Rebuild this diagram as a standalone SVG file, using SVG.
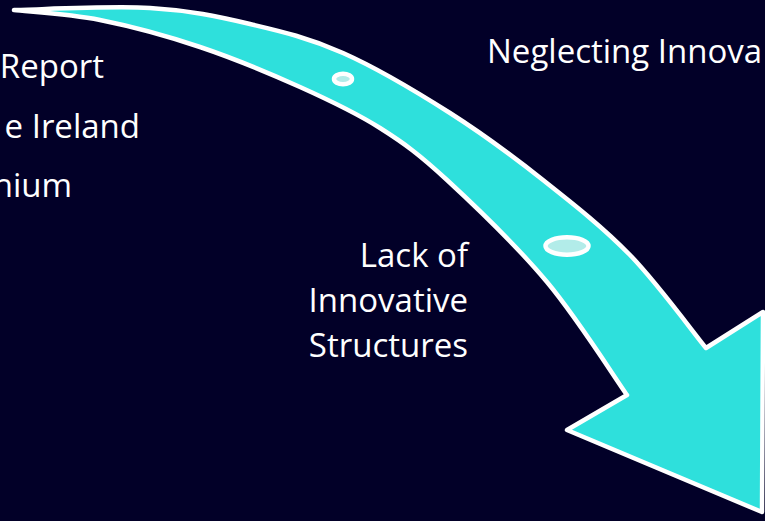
<svg xmlns="http://www.w3.org/2000/svg" width="765" height="521" viewBox="0 0 765 521">
  <style>
    .bg { fill: #020028; }
    .arrow { fill: #2ee0dc; stroke: #ffffff; stroke-width: 4.5; stroke-linejoin: round; }
    .dot { fill: #b2ece9; stroke: #ffffff; stroke-width: 4.5; }
    .label { font-family: "Open Sans", "Noto Sans", "Liberation Sans", sans-serif; font-size: 33px; fill: #ffffff; }
    .right { text-anchor: end; }
  </style>

  <rect class="bg" x="0" y="0" width="765" height="521"/>

  <!-- curved arrow: outer edge from the tail, head, then inner edge back to the tail -->
  <g id="connectors">
    <path id="trend-arrow" class="arrow" d="M 14 10
      C 36.7 9.7 110.7 5.7 150 8
      C 189.3 10.3 217.8 16.5 250 24
      C 282.2 31.5 309.7 38.2 343 53
      C 376.3 67.8 416.7 91.8 450 113
      C 483.3 134.2 513 156.3 543 180
      C 573 203.7 602.8 227 630 255
      C 657.2 283 693.3 332.5 706 348
      L 763 312 L 762 512 L 567 430 L 627 395
      C 613.7 376.2 577 317.8 547 282
      C 517 246.2 474.8 205.7 447 180
      C 419.2 154.3 404.5 143.5 380 128
      C 355.5 112.5 330 100.5 300 87
      C 270 73.5 233.3 58.2 200 47
      C 166.7 35.8 131 26.2 100 20
      C 69 13.8 28.3 11.7 14 10 Z"/>
    <ellipse id="stop-1" class="dot" cx="343" cy="79" rx="9" ry="5.2"/>
    <ellipse id="stop-2" class="dot" cx="567" cy="246" rx="21.5" ry="8.7"/>
  </g>

  <g id="left-list">
    <text class="label right" x="104" y="78">Report</text>
    <text class="label right" x="140" y="138">e Ireland</text>
    <text class="label right" x="72" y="197">nium</text>
  </g>

  <g id="node-lack">
    <text class="label right" x="468" y="267">Lack of</text>
    <text class="label right" x="468" y="312">Innovative</text>
    <text class="label right" x="468" y="357">Structures</text>
  </g>

  <g id="node-neglecting">
    <text class="label" x="487" y="63">Neglecting Innova</text>
  </g>
</svg>
